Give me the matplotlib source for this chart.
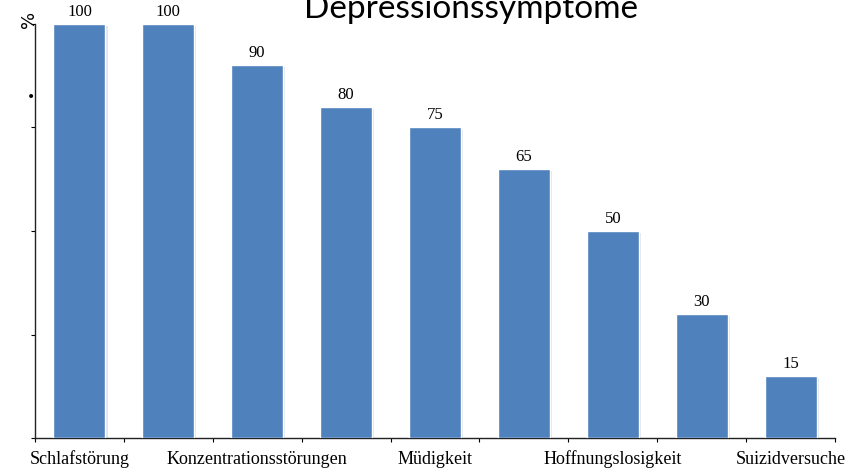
import matplotlib
matplotlib.use("Agg")
import matplotlib.pyplot as plt
import matplotlib.patheffects as pe
import numpy as np

# Depression symptoms, share in percent
categories = ["Schlafstörung", "", "Konzentrationsstörungen", "", "Müdigkeit",
              "", "Hoffnungslosigkeit", "", "Suizidversuche"]
values = [100, 100, 90, 80, 75, 65, 50, 30, 15]
yticks = [0, 25, 50, 75, 100]

BAR = "#4F81BD"
SERIF = "Liberation Serif"

fig = plt.figure(figsize=(8.67, 4.69), dpi=100)
ax = fig.add_axes([35 / 867, 1 - 438 / 469, 800 / 867, (438 - 24) / 469])

x = np.arange(len(values))
bars = ax.bar(x, values, width=0.585, color=BAR, edgecolor="white", linewidth=1.0,
              zorder=3)
for b in bars:
    b.set_path_effects([pe.SimplePatchShadow(offset=(1.5, -1.5), alpha=0.12), pe.Normal()])

for xi, v in zip(x, values):
    ax.annotate(str(v), (xi, v), xytext=(0, 3), textcoords="offset points",
                ha="center", va="bottom", fontsize=12, family=SERIF)

ax.set_xlim(-0.5, len(values) - 0.5)
ax.set_ylim(0, 100)

# category ticks sit between the bars, labels under every bar
ax.set_xticks(np.arange(len(values) + 1) - 0.5)
ax.set_xticklabels([])
ax.set_xticks(x, minor=True)
ax.set_xticklabels(categories, minor=True, fontsize=13, family=SERIF)
ax.tick_params(axis="x", which="minor", length=0, pad=9)
ax.tick_params(axis="x", which="major", length=3, width=0.8, direction="out")

ax.set_yticks(yticks)
ax.set_yticklabels([])
ax.tick_params(axis="y", length=3, width=0.8, direction="out")

for side in ("top", "right"):
    ax.spines[side].set_visible(False)
for side in ("left", "bottom"):
    ax.spines[side].set_linewidth(1.0)
    ax.spines[side].set_color("#222222")

# title sits partly above the top edge of the figure
fig.text(471 / 867, 1 - 18 / 469, "Depressionssymptome", ha="center", va="baseline",
         fontsize=24, family="Lato")
fig.text(29 / 867, 1 - 19 / 469, "%", rotation=90, ha="center", va="center",
         fontsize=13, family="DejaVu Sans")
fig.text(31 / 867, 1 - 97 / 469, "•", ha="center", va="center", fontsize=10)

fig.savefig("out.png", dpi=100)
